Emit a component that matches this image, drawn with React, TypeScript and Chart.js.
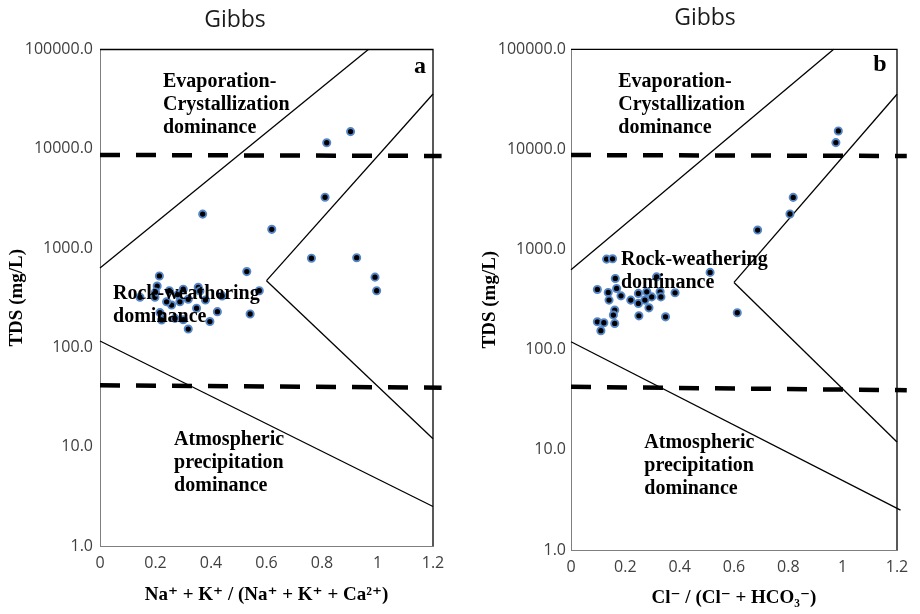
import React, { useEffect, useRef } from 'react';
import { Chart, registerables } from 'chart.js';

Chart.register(...registerables);

// ---------- axis ticks ----------
const xMin = 0;
const xMax = 1.2;
const xStep = 0.2;
const yTickValues = [1, 10, 100, 1000, 10000, 100000];

// ---------- Gibbs boundary lines (shared) ----------
const evapLeftX = [0, 0.967];
const evapLeftTDS = [630, 100000];
const evapRightX = [0.6, 1.2];
const evapRightTDS = [470, 35600];
const precipRightX = [0.6, 1.2];
const precipRightTDS = [470, 12];
const frameX = [0, 1.2, 1.2];
const frameTDS = [100000, 100000, 1];

// ---------- panel a ----------
const aPrecipLeftX = [0, 1.2];
const aPrecipLeftTDS = [116, 2.5];
const aDashHighX = [0, 1.231];
const aDashHighTDS = [8670, 8470];
const aDashLowX = [0, 1.231];
const aDashLowTDS = [41.5, 39.3];
const aRatio = [0.817, 0.903, 0.370, 0.811, 0.619, 0.762, 0.925, 0.991, 0.997, 0.529, 0.574, 0.541, 0.423, 0.396, 0.318, 0.214, 0.206, 0.144, 0.198, 0.250, 0.300, 0.354, 0.258, 0.240, 0.288, 0.318, 0.348, 0.216, 0.222, 0.270, 0.440, 0.360, 0.200, 0.280, 0.380, 0.300];
const aTDS = [11500, 14900, 2200, 3250, 1545, 790, 800, 510, 372, 580, 372, 217, 229, 182, 153, 524, 415, 320, 320, 372, 385, 403, 267, 288, 288, 305, 248, 224, 189, 196, 330, 370, 360, 340, 300, 190];

// ---------- panel b ----------
const bPrecipLeftX = [0, 1.213];
const bPrecipLeftTDS = [120, 2.5];
const bDashHighX = [0, 1.236];
const bDashHighTDS = [8790, 8600];
const bDashLowX = [0, 1.236];
const bDashLowTDS = [42.6, 39.4];
const bRatio = [0.984, 0.975, 0.818, 0.806, 0.687, 0.131, 0.153, 0.512, 0.612, 0.097, 0.163, 0.137, 0.140, 0.168, 0.184, 0.161, 0.156, 0.097, 0.121, 0.161, 0.110, 0.250, 0.348, 0.220, 0.248, 0.248, 0.272, 0.287, 0.297, 0.315, 0.328, 0.383, 0.331, 0.279];
const bTDS = [15300, 11700, 3320, 2265, 1566, 803, 809, 592, 234, 400, 515, 373, 313, 409, 345, 249, 222, 190, 186, 183, 155, 218, 213, 313, 290, 365, 313, 262, 337, 534, 379, 370, 337, 379];

// ---------- text ----------
const chartTitle = 'Gibbs';
const yTitle = 'TDS (mg/L)';
const aXTitle = 'Na\u207A + K\u207A / (Na\u207A + K\u207A + Ca\u00B2\u207A)';
const bXTitle = 'Cl\u207B / (Cl\u207B + HCO\u2083\u207B)';
const evapText = ['Evaporation-', 'Crystallization', 'dominance'];
const rockText = ['Rock-weathering', 'dominance'];
const atmoText = ['Atmospheric', 'precipitation', 'dominance'];

type Label = { lines: string[]; x: number; y: number; align?: CanvasTextAlign; size?: number };

const panelA = {
  ratio: aRatio,
  tds: aTDS,
  precipLeft: [aPrecipLeftX, aPrecipLeftTDS],
  dashHigh: [aDashHighX, aDashHighTDS],
  dashLow: [aDashLowX, aDashLowTDS],
  xTitle: aXTitle,
  labels: [
    { lines: evapText, x: 0.227, y: 47400 },
    { lines: rockText, x: 0.047, y: 345 },
    { lines: atmoText, x: 0.267, y: 11.7 },
    { lines: ['a'], x: 1.175, y: 67100, align: 'right', size: 24 },
  ] as Label[],
  // layout (canvas-relative pixels)
  axisLeft: 100,
  plotTop: 49.5,
  xAxisHeight: 68,
  padRight: 37,
  titleX: 235,
  titleY: 20,
  yTitleCenter: 17,
  xTitlePad: 7.6,
  yTickPad: 7,
  xTickPad: 8,
};

const panelB = {
  ratio: bRatio,
  tds: bTDS,
  precipLeft: [bPrecipLeftX, bPrecipLeftTDS],
  dashHigh: [bDashHighX, bDashHighTDS],
  dashLow: [bDashLowX, bDashLowTDS],
  xTitle: bXTitle,
  labels: [
    { lines: evapText, x: 0.174, y: 47400 },
    { lines: rockText, x: 0.184, y: 785 },
    { lines: atmoText, x: 0.270, y: 11.7 },
    { lines: ['b'], x: 1.162, y: 69700, align: 'right', size: 24 },
  ] as Label[],
  axisLeft: 101,
  plotTop: 49.3,
  xAxisHeight: 64,
  padRight: 43,
  titleX: 235,
  titleY: 18.5,
  yTitleCenter: 20,
  xTitlePad: 4.6,
  yTickPad: 5,
  xTickPad: 8,
};

type Panel = typeof panelA;

const serif = '"Liberation Serif", "Times New Roman", "DejaVu Serif", serif';
const sans = '"Open Sans", "Noto Sans", sans-serif';
const titleSize = 23;
const axisTitleSize = 19;

const zip = (xs: number[], ys: number[]) => xs.map((x, i) => ({ x, y: ys[i] }));

function buildConfig(p: Panel): any {
  const line = (xs: number[], ys: number[], extra: any = {}) => ({
    data: zip(xs, ys),
    showLine: true,
    pointRadius: 0,
    pointHoverRadius: 0,
    borderColor: '#000',
    backgroundColor: '#000',
    borderWidth: 1.3,
    clip: false,
    ...extra,
  });
  const dashed = { borderWidth: 4.5, borderDash: [20, 16] };

  const labelPlugin = {
    id: 'regionLabels',
    afterDatasetsDraw(chart: any) {
      const { ctx, scales } = chart;
      ctx.save();
      ctx.fillStyle = '#000';
      ctx.textBaseline = 'middle';
      for (const l of p.labels) {
        const size = l.size ?? 20;
        ctx.font = `bold ${size}px ${serif}`;
        ctx.textAlign = l.align ?? 'left';
        const px = scales.x.getPixelForValue(l.x);
        const py = scales.y.getPixelForValue(l.y);
        l.lines.forEach((t, i) => ctx.fillText(t, px, py + i * 23));
      }
      // panel heading
      ctx.fillStyle = '#1a1a1a';
      ctx.font = `${titleSize}px ${sans}`;
      ctx.textAlign = 'center';
      ctx.fillText(chartTitle, p.titleX, p.titleY);
      ctx.restore();
    },
  };

  const yTitlePadTop = p.yTitleCenter - (axisTitleSize * 1.2) / 2;

  return {
    type: 'scatter',
    data: {
      datasets: [
        {
          data: zip(p.ratio, p.tds),
          pointRadius: 3.6,
          pointHoverRadius: 3.6,
          backgroundColor: '#000',
          borderColor: '#5586c8',
          borderWidth: 1.9,
        },
        line(evapLeftX, evapLeftTDS),
        line(evapRightX, evapRightTDS),
        line(precipRightX, precipRightTDS),
        line(p.precipLeft[0], p.precipLeft[1]),
        line(frameX, frameTDS),
        line(p.dashHigh[0], p.dashHigh[1], dashed),
        line(p.dashLow[0], p.dashLow[1], dashed),
      ],
    },
    options: {
      animation: false,
      responsive: false,
      maintainAspectRatio: false,
      events: [],
      layout: { padding: { left: 0, right: p.padRight, top: p.plotTop, bottom: 0 } },
      plugins: {
        legend: { display: false },
        tooltip: { enabled: false },
        title: { display: false },
      },
      scales: {
        x: {
          type: 'linear',
          min: xMin,
          max: xMax,
          grid: { display: false, drawTicks: false },
          border: { display: true, color: '#7f7f7f', width: 1 },
          ticks: {
            stepSize: xStep,
            padding: p.xTickPad,
            color: '#404040',
            font: { family: sans, size: 16 },
            callback: (v: any) => String(Math.round(Number(v) * 10) / 10),
          },
          title: {
            display: true,
            text: p.xTitle,
            color: '#000',
            font: { family: serif, size: axisTitleSize, weight: 'bold', lineHeight: 1.2 },
            padding: { top: 0, bottom: p.xTitlePad },
          },
          afterFit: (s: any) => { s.height = p.xAxisHeight; },
        },
        y: {
          type: 'logarithmic',
          min: 1,
          max: 100000,
          grid: { display: false, drawTicks: false },
          border: { display: true, color: '#7f7f7f', width: 1 },
          afterBuildTicks: (s: any) => { s.ticks = yTickValues.map((v) => ({ value: v })); },
          ticks: {
            autoSkip: false,
            padding: p.yTickPad,
            color: '#404040',
            font: { family: sans, size: 16 },
            callback: (v: any) => Number(v).toFixed(1),
          },
          title: {
            display: true,
            text: yTitle,
            color: '#000',
            font: { family: serif, size: axisTitleSize, weight: 'bold', lineHeight: 1.2 },
            padding: { top: yTitlePadTop, bottom: 0 },
          },
          afterFit: (s: any) => { s.width = p.axisLeft; },
        },
      },
    },
    plugins: [labelPlugin],
  };
}

export default function App() {
  const leftRef = useRef<HTMLCanvasElement>(null);
  const rightRef = useRef<HTMLCanvasElement>(null);

  useEffect(() => {
    const c1 = new Chart(leftRef.current as HTMLCanvasElement, buildConfig(panelA));
    const c2 = new Chart(rightRef.current as HTMLCanvasElement, buildConfig(panelB));
    return () => {
      c1.destroy();
      c2.destroy();
    };
  }, []);

  return (
    <div style={{ position: 'fixed', left: 0, top: 0, width: 920, height: 614, overflow: 'hidden', background: '#fff' }}>
      <canvas ref={leftRef} width={470} height={614} style={{ position: 'absolute', left: 0, top: 0, width: 470, height: 614, display: 'block' }} />
      <canvas ref={rightRef} width={470} height={614} style={{ position: 'absolute', left: 470, top: 0, width: 470, height: 614, display: 'block' }} />
    </div>
  );
}
